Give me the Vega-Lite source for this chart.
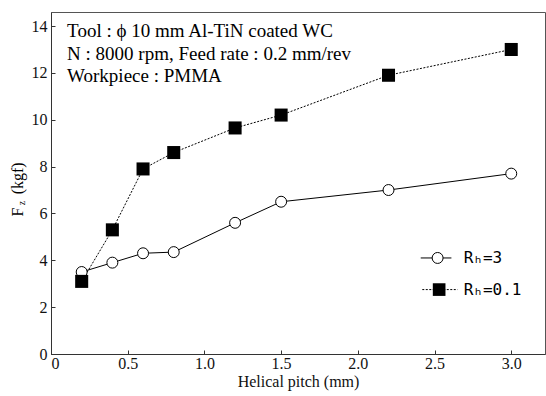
{
  "$schema": "https://vega.github.io/schema/vega-lite/v6.json",
  "width": 494,
  "height": 342,
  "autosize": {"type": "none"},
  "padding": {"left": 51, "top": 12, "right": 1, "bottom": 42},
  "background": "white",
  "config": {
    "font": "Liberation Serif",
    "view": {"stroke": "#555", "strokeWidth": 1},
    "axis": {"grid": false, "domainColor": "#333", "tickColor": "#333", "labelColor": "#111", "titleColor": "#111", "labelFont": "Liberation Serif", "titleFont": "Liberation Serif", "labelFontSize": 16, "titleFontSize": 16, "titleFontWeight": "normal"}
  },
  "datasets": {
    "pts": [
      {"pitch": 0.2, "fz": 3.5, "series": "Rh=3"},
      {"pitch": 0.4, "fz": 3.9, "series": "Rh=3"},
      {"pitch": 0.6, "fz": 4.3, "series": "Rh=3"},
      {"pitch": 0.8, "fz": 4.35, "series": "Rh=3"},
      {"pitch": 1.2, "fz": 5.6, "series": "Rh=3"},
      {"pitch": 1.5, "fz": 6.5, "series": "Rh=3"},
      {"pitch": 2.2, "fz": 7.0, "series": "Rh=3"},
      {"pitch": 3.0, "fz": 7.7, "series": "Rh=3"},
      {"pitch": 0.2, "fz": 3.1, "series": "Rh=0.1"},
      {"pitch": 0.4, "fz": 5.3, "series": "Rh=0.1"},
      {"pitch": 0.6, "fz": 7.9, "series": "Rh=0.1"},
      {"pitch": 0.8, "fz": 8.6, "series": "Rh=0.1"},
      {"pitch": 1.2, "fz": 9.65, "series": "Rh=0.1"},
      {"pitch": 1.5, "fz": 10.2, "series": "Rh=0.1"},
      {"pitch": 2.2, "fz": 11.9, "series": "Rh=0.1"},
      {"pitch": 3.0, "fz": 13.0, "series": "Rh=0.1"}
    ],
    "one": [{}]
  },
  "layer": [
    {
      "data": {"name": "pts"},
      "transform": [{"filter": "datum.series == 'Rh=3'"}],
      "mark": {"type": "line", "color": "black", "strokeWidth": 1},
      "encoding": {
        "x": {"field": "pitch", "type": "quantitative", "scale": {"domain": [0, 3.22], "nice": false},
          "axis": {"values": [0, 0.5, 1, 1.5, 2, 2.5, 3], "labelExpr": "datum.value == 0 ? '0' : format(datum.value, '.1f')", "tickSize": -4, "labelPadding": 5, "title": "Helical pitch (mm)", "titlePadding": 2}},
        "y": {"field": "fz", "type": "quantitative", "scale": {"domain": [0, 14.6], "nice": false},
          "axis": {"values": [0, 2, 4, 6, 8, 10, 12, 14], "tickSize": -4, "labelPadding": 8, "title": null}}
      }
    },
    {
      "data": {"name": "pts"},
      "transform": [{"filter": "datum.series == 'Rh=0.1'"}],
      "mark": {"type": "line", "color": "black", "strokeWidth": 1, "strokeDash": [2, 1.5]},
      "encoding": {
        "x": {"field": "pitch", "type": "quantitative"},
        "y": {"field": "fz", "type": "quantitative"}
      }
    },
    {
      "data": {"name": "pts"},
      "transform": [{"filter": "datum.series == 'Rh=3'"}],
      "mark": {"type": "point", "shape": "circle", "filled": true, "fill": "white", "stroke": "black", "strokeWidth": 1, "size": 120, "opacity": 1},
      "encoding": {
        "x": {"field": "pitch", "type": "quantitative"},
        "y": {"field": "fz", "type": "quantitative"}
      }
    },
    {
      "data": {"name": "pts"},
      "transform": [{"filter": "datum.series == 'Rh=0.1'"}],
      "mark": {"type": "square", "color": "black", "size": 170, "opacity": 1},
      "encoding": {
        "x": {"field": "pitch", "type": "quantitative"},
        "y": {"field": "fz", "type": "quantitative"}
      }
    },
    {
      "data": {"name": "one"},
      "mark": {"type": "text", "align": "left", "baseline": "alphabetic", "fontSize": 19, "lineHeight": 22.5, "font": "Liberation Serif", "color": "black"},
      "encoding": {
        "x": {"datum": 0.105},
        "y": {"datum": 13.53},
        "text": {"value": ["Tool : ϕ 10 mm Al-TiN coated WC", "N : 8000 rpm, Feed rate : 0.2 mm/rev", "Workpiece : PMMA"]}
      }
    },
    {
      "data": {"name": "one"},
      "mark": {"type": "rule", "color": "black", "strokeWidth": 1},
      "encoding": {"x": {"datum": 2.41}, "x2": {"datum": 2.61}, "y": {"datum": 4.1}}
    },
    {
      "data": {"name": "one"},
      "mark": {"type": "point", "shape": "circle", "filled": true, "fill": "white", "stroke": "black", "strokeWidth": 1, "size": 120, "opacity": 1},
      "encoding": {"x": {"datum": 2.52}, "y": {"datum": 4.1}}
    },
    {
      "data": {"name": "one"},
      "mark": {"type": "rule", "color": "black", "strokeWidth": 1, "strokeDash": [2, 1.5]},
      "encoding": {"x": {"datum": 2.42}, "x2": {"datum": 2.65}, "y": {"datum": 2.75}}
    },
    {
      "data": {"name": "one"},
      "mark": {"type": "square", "color": "black", "size": 160, "opacity": 1},
      "encoding": {"x": {"datum": 2.53}, "y": {"datum": 2.75}}
    },
    {
      "data": {"name": "one"},
      "mark": {"type": "text", "align": "left", "baseline": "middle", "fontSize": 16, "font": "DejaVu Sans Mono", "color": "black"},
      "encoding": {"x": {"datum": 2.69}, "y": {"datum": 4.1}, "text": {"value": "Rₕ=3"}}
    },
    {
      "data": {"name": "one"},
      "mark": {"type": "text", "align": "left", "baseline": "middle", "fontSize": 16, "font": "DejaVu Sans Mono", "color": "black"},
      "encoding": {"x": {"datum": 2.69}, "y": {"datum": 2.75}, "text": {"value": "Rₕ=0.1"}}
    },
    {
      "data": {"name": "one"},
      "mark": {"type": "text", "align": "center", "baseline": "middle", "angle": 270, "fontSize": 16, "font": "Liberation Serif", "color": "black"},
      "encoding": {"x": {"datum": -0.215}, "y": {"datum": 6.06}, "text": {"value": "F"}}
    },
    {
      "data": {"name": "one"},
      "mark": {"type": "text", "align": "center", "baseline": "middle", "angle": 270, "fontSize": 10, "font": "Liberation Serif", "color": "black"},
      "encoding": {"x": {"datum": -0.19}, "y": {"datum": 6.45}, "text": {"value": "z"}}
    },
    {
      "data": {"name": "one"},
      "mark": {"type": "text", "align": "center", "baseline": "middle", "angle": 270, "fontSize": 16, "font": "Liberation Serif", "color": "black"},
      "encoding": {"x": {"datum": -0.215}, "y": {"datum": 7.5}, "text": {"value": "(kgf)"}}
    }
  ]
}
